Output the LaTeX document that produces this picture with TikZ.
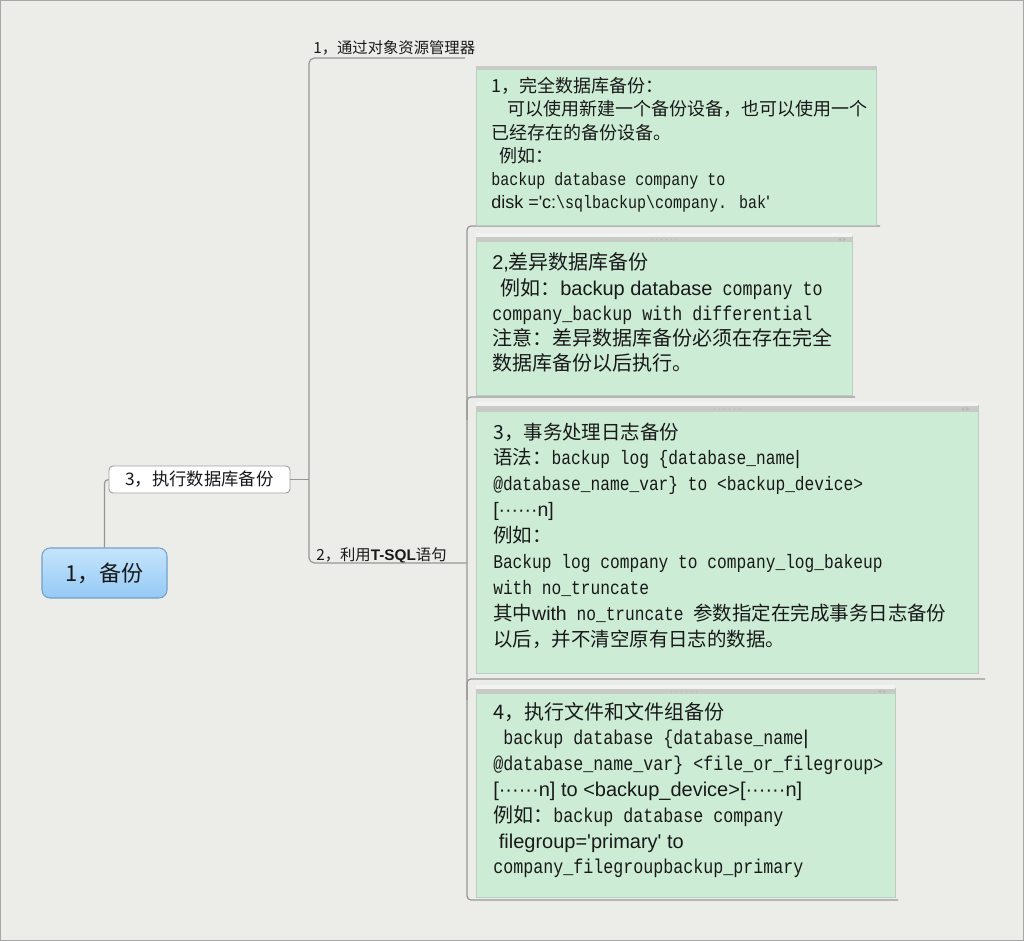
\documentclass[tikz,border=0pt]{standalone}
\usepackage{fontspec}
\setmainfont{Noto Sans CJK SC}
\newfontfamily\ar{Liberation Sans}
\newfontfamily\mn[FakeStretch=0.8333]{Liberation Mono}
\usetikzlibrary{shadings}
\definecolor{bg}{RGB}{236,237,233}
\definecolor{linegray}{RGB}{150,150,150}
\definecolor{notegreen}{RGB}{204,236,213}
\definecolor{notebord}{RGB}{188,204,192}
\definecolor{stripgray}{RGB}{200,202,198}
\definecolor{txt}{RGB}{25,25,25}
\definecolor{rootTop}{RGB}{198,229,252}
\definecolor{rootBot}{RGB}{148,201,245}
\definecolor{rootBord}{RGB}{115,160,200}
\tikzset{
  conn/.style={draw=linegray, line width=0.9pt},
  frameline/.style={draw=linegray, line width=0.9pt, rounded corners=3pt},
  greenbox/.style={fill=notegreen, draw=notebord, line width=0.6pt},
  stripband/.style={fill=stripgray},
  striplight/.style={fill=white!75!stripgray},
  stripdot/.style={fill=gray!55},
  rootnode/.style={draw=rootBord, line width=0.8pt, rounded corners=6pt,
    top color=rootTop, bottom color=rootBot, minimum width=93.75pt,
    minimum height=37.5pt, inner sep=0pt, text=txt,
    font=\fontsize{16.5}{18}\selectfont},
  topic/.style={draw=gray!75, fill=white, rounded corners=3pt, line width=0.7pt,
    minimum width=135.75pt, minimum height=20.25pt, inner sep=0pt, text=txt,
    font=\fontsize{13}{15}\selectfont},
  blabel/.style={anchor=base west, inner sep=0pt, text=txt,
    font=\fontsize{11.5}{13}\selectfont},
  lineA/.style={anchor=base west, inner sep=0pt, text=txt, font=\fontsize{13.5}{16}\selectfont},
  lineB/.style={anchor=base west, inner sep=0pt, text=txt, font=\fontsize{15}{18}\selectfont},
  lineC/.style={anchor=base west, inner sep=0pt, text=txt, font=\fontsize{14.6}{18}\selectfont},
}
\begin{document}
\begin{tikzpicture}[x=0.75pt,y=-0.75pt]
\useasboundingbox (0,0) rectangle (1024,941);
\fill[bg] (0,0) rectangle (1024,941);
\draw[gray!70, line width=1pt] (0.5,0.5) rectangle (1023.5,940.5);

% frames of the note boxes
\draw[frameline] (880,226) -| (467,900) -- (898,900);
\draw[frameline] (467,420) |- (855,397);
\draw[frameline] (467,700) |- (985,679);

% note box 1
\path[greenbox] (476,66) rectangle (876,225);
\fill[stripband] (476,66) rectangle (876,70);
% note box 2
\path[greenbox] (476,236) rectangle (852,395);
\fill[striplight] (476,233) rectangle (852,237);
\fill[stripband] (476,237) rectangle (852,242);
% note box 3
\path[greenbox] (476,405) rectangle (978,673);
\fill[striplight] (476,402) rectangle (978,406);
\fill[stripband] (476,406) rectangle (978,412);
% note box 4
\path[greenbox] (476,688) rectangle (895,897);
\fill[striplight] (476,685) rectangle (895,689);
\fill[stripband] (476,689) rectangle (895,694);

% strip decorations
\foreach \cx/\cy/\rx in {664/239.5/842, 727/409/965, 684/691.5/882}{
  \foreach \k in {0,...,5}{\fill[stripdot] ({\cx-12.5+5*\k},\cy) circle (0.6);}
  \fill[gray!55] ({\rx-1},{\cy-2}) -- ({\rx-4},\cy) -- ({\rx-1},{\cy+2}) -- cycle;
  \fill[gray!55] ({\rx+1},{\cy-2}) -- ({\rx+4},\cy) -- ({\rx+1},{\cy+2}) -- cycle;
}

% texts of box 1
\foreach \t [count=\i] in {
  {1，完全数据库备份：},
  {\hspace*{12pt}可以使用新建一个备份设备，也可以使用一个},
  {已经存在的备份设备。},
  {\hspace*{6pt}例如：},
  {\mn backup database company to},
  {{\ar disk =\textquotesingle c:}{\mn\textbackslash sqlbackup\textbackslash company. bak}{\ar\textquotesingle}}
}{\node[lineA] (ta\i) at (491,{92.5+23.3*(\i-1)}) {\t};}

% texts of box 2
\foreach \t [count=\i] in {
  {{\ar 2,}差异数据库备份},
  {\hspace*{6pt}例如：{\ar backup database}{\mn\ company to}},
  {\mn company\_backup with differential},
  {注意：差异数据库备份必须在存在完全},
  {数据库备份以后执行。}
}{\node[lineB] (tb\i) at (492,{270+25.2*(\i-1)}) {\t};}

% texts of box 3
\foreach \t [count=\i] in {
  {3，事务处理日志备份},
  {语法：{\mn backup log \{database\_name}{\ar\textbar}},
  {\mn @database\_name\_var\} to <backup\_device>},
  {\ar [······n]},
  {例如：},
  {\mn Backup log company to company\_log\_bakeup},
  {\mn with no\_truncate},
  {其中{\ar with}{\mn\ no\_truncate\ }参数指定在完成事务日志备份},
  {以后，并不清空原有日志的数据。}
}{\node[lineC] (tc\i) at (493,{439+25.9*(\i-1)}) {\t};}

% texts of box 4
\foreach \t [count=\i] in {
  {4，执行文件和文件组备份},
  {{\mn\ backup database \{database\_name}{\ar\textbar}},
  {\mn @database\_name\_var\} <file\_or\_filegroup>},
  {\ar [······n] to <backup\_device>[······n]},
  {例如：{\mn backup database company}},
  {\ar\ filegroup=\textquotesingle primary\textquotesingle\ to},
  {\mn company\_filegroupbackup\_primary}
}{\node[lineB] (td\i) at (493,{719+25.8*(\i-1)}) {\t};}

% mind map topics
\node[rootnode] (root) at (104.5,573) {1，备份};
\node[topic] (n3) at (199.5,479.5) {3，执行数据库备份};
\node[blabel] (b1) at (313,54) {1，通过对象资源管理器};
\node[blabel] (b2) at (316,560) {2，利用{\ar\bfseries T-SQL}语句};

\coordinate (j) at (309,479.5);
\coordinate (u1) at (465,58);
\coordinate (u2) at (467,563);

\draw[conn, rounded corners=3pt] (root.north) |- (n3.west);
\draw[conn] (n3.east) -- (j);
\draw[conn, rounded corners=4pt] (j) |- (u1);
\draw[conn, rounded corners=4pt] (j) |- (u2);
\end{tikzpicture}
\end{document}
